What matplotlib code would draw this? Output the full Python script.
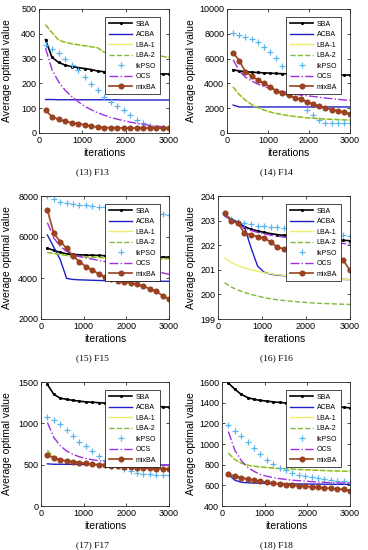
import numpy as np
import matplotlib
matplotlib.use('Agg')
import matplotlib.pyplot as plt

plt.rcParams['font.family'] = ['Liberation Sans', 'DejaVu Sans']

# iterations (markers every 150)
iters = np.arange(150, 3001, 150)

names = ['SBA', 'ACBA', 'LBA-1', 'LBA-2', 'fkPSO', 'OCS', 'mixBA']

# (13) F13
f13_sba = [376, 305, 285, 274, 268, 264, 260, 256, 250, 247, 246, 245, 244, 243, 242, 241, 240, 239, 238, 238]
f13_acba = [135, 135, 134, 134, 134, 134, 134, 134, 134, 134, 134, 134, 133, 133, 133, 133, 133, 133, 133, 133]
f13_lba1 = [436, 405, 375, 366, 360, 356, 352, 348, 344, 326, 320, 320, 320, 319, 318, 316, 314, 312, 309, 305]
f13_lba2 = [436, 405, 375, 366, 360, 356, 352, 348, 344, 326, 320, 320, 320, 319, 318, 316, 314, 312, 309, 305]
f13_pso = [355, 338, 322, 297, 274, 254, 224, 197, 173, 146, 126, 108, 92, 72, 54, 41, 27, 22, 22, 22]
f13_ocs = [342, 255, 207, 173, 148, 127, 108, 94, 82, 72, 63, 56, 50, 44, 39, 35, 31, 28, 25, 23]
f13_mix = [92, 65, 55, 47, 42, 38, 33, 28, 24, 22, 21, 21, 20, 20, 20, 20, 20, 20, 20, 20]

# (14) F14
f14_sba = [5100, 5000, 4950, 4900, 4880, 4850, 4830, 4800, 4780, 4770, 4750, 4740, 4730, 4720, 4710, 4700, 4700, 4690, 4680, 4670]
f14_acba = [2250, 2100, 2100, 2100, 2100, 2100, 2100, 2100, 2100, 2100, 2100, 2100, 2100, 2100, 2100, 2100, 2100, 2100, 2100, 2100]
f14_lba1 = [3700, 3100, 2650, 2300, 2050, 1850, 1700, 1580, 1480, 1400, 1330, 1280, 1230, 1190, 1150, 1120, 1100, 1080, 1060, 1050]
f14_lba2 = [3700, 3100, 2650, 2300, 2050, 1850, 1700, 1580, 1480, 1400, 1330, 1280, 1230, 1190, 1150, 1120, 1100, 1080, 1060, 1050]
f14_pso = [8050, 7920, 7780, 7600, 7300, 6920, 6570, 6030, 5430, 4680, 3700, 2750, 1840, 1430, 1030, 840, 840, 840, 840, 840]
f14_ocs = [5900, 5000, 4500, 4200, 3950, 3750, 3600, 3450, 3350, 3250, 3150, 3050, 3000, 2950, 2880, 2820, 2770, 2720, 2670, 2620]
f14_mix = [6490, 5810, 4950, 4590, 4270, 4000, 3730, 3400, 3190, 3050, 2860, 2730, 2510, 2320, 2160, 2030, 1890, 1780, 1680, 1510]

# (15) F15
f15_sba = [5450, 5350, 5250, 5180, 5150, 5130, 5120, 5110, 5100, 5090, 5080, 5070, 5060, 5050, 5050, 5040, 5030, 5030, 5020, 5020]
f15_acba = [6100, 5500, 4900, 3980, 3930, 3910, 3900, 3890, 3880, 3870, 3870, 3860, 3860, 3850, 3850, 3850, 3850, 3840, 3840, 3840]
f15_lba1 = [5250, 5200, 5150, 5100, 5070, 5050, 5030, 5010, 5000, 4990, 4980, 4970, 4960, 4960, 4950, 4950, 4950, 4940, 4940, 4940]
f15_lba2 = [5250, 5200, 5150, 5100, 5070, 5050, 5030, 5010, 5000, 4990, 4980, 4970, 4960, 4960, 4950, 4950, 4950, 4940, 4940, 4940]
f15_pso = [8000, 7840, 7720, 7670, 7620, 7570, 7540, 7510, 7480, 7440, 7400, 7370, 7340, 7300, 7270, 7240, 7200, 7160, 7110, 7080]
f15_ocs = [6700, 5950, 5550, 5300, 5150, 5050, 4980, 4920, 4860, 4800, 4740, 4680, 4620, 4560, 4500, 4440, 4380, 4320, 4250, 4180]
f15_mix = [7320, 6180, 5780, 5450, 5080, 4800, 4560, 4400, 4200, 4050, 3950, 3870, 3800, 3750, 3700, 3590, 3480, 3350, 3140, 2980]

# (16) F16
f16_sba = [203.25, 203.05, 202.9, 202.75, 202.65, 202.58, 202.52, 202.47, 202.43, 202.40, 202.37, 202.34, 202.32, 202.30, 202.28, 202.26, 202.24, 202.22, 202.20, 202.18]
f16_acba = [203.2, 203.05, 202.95, 202.75, 201.9, 201.15, 200.9, 200.82, 200.78, 200.76, 200.74, 200.72, 200.7, 200.68, 200.66, 200.65, 200.63, 200.62, 200.61, 200.6]
f16_lba1 = [201.47, 201.3, 201.17, 201.08, 201.0, 200.94, 200.88, 200.84, 200.8, 200.77, 200.74, 200.72, 200.7, 200.68, 200.66, 200.65, 200.63, 200.62, 200.61, 200.6]
f16_lba2 = [200.47, 200.3, 200.18, 200.08, 200.0, 199.93, 199.87, 199.82, 199.78, 199.75, 199.72, 199.7, 199.68, 199.66, 199.64, 199.63, 199.62, 199.61, 199.6, 199.59]
f16_pso = [203.25, 203.05, 202.95, 202.9, 202.85, 202.8, 202.78, 202.75, 202.72, 202.7, 202.67, 202.64, 202.6, 202.57, 202.54, 202.5, 202.47, 202.44, 202.4, 202.38]
f16_ocs = [203.2, 203.0, 202.85, 202.7, 202.6, 202.52, 202.46, 202.41, 202.37, 202.33, 202.3, 202.27, 202.24, 202.21, 202.18, 202.15, 202.13, 202.1, 202.07, 202.05]
f16_mix = [203.3, 203.0, 202.9, 202.5, 202.42, 202.35, 202.3, 202.12, 201.92, 201.85, 201.78, 201.74, 201.7, 201.66, 201.62, 201.58, 201.52, 201.45, 201.38, 200.98]

# (17) F17
f17_sba = [1470, 1350, 1305, 1290, 1278, 1268, 1260, 1255, 1250, 1245, 1240, 1235, 1230, 1225, 1220, 1215, 1210, 1205, 1200, 1195]
f17_acba = [510, 505, 505, 504, 504, 503, 503, 502, 502, 501, 500, 500, 499, 499, 498, 498, 497, 496, 496, 495]
f17_lba1 = [670, 590, 560, 545, 535, 525, 515, 505, 495, 490, 485, 480, 475, 470, 465, 462, 458, 455, 452, 450]
f17_lba2 = [670, 590, 560, 545, 535, 525, 515, 505, 495, 490, 485, 480, 475, 470, 465, 462, 458, 455, 452, 450]
f17_pso = [1080, 1040, 990, 920, 850, 780, 730, 660, 610, 560, 520, 480, 450, 420, 395, 385, 382, 381, 380, 380]
f17_ocs = [1010, 830, 730, 665, 625, 595, 575, 560, 548, 538, 530, 523, 517, 512, 508, 504, 500, 497, 494, 490]
f17_mix = [620, 580, 560, 545, 535, 525, 515, 505, 495, 490, 485, 480, 475, 470, 465, 460, 455, 450, 448, 445]

# (18) F18
f18_sba = [1590, 1530, 1480, 1450, 1432, 1422, 1415, 1408, 1402, 1397, 1392, 1388, 1383, 1378, 1374, 1370, 1365, 1360, 1355, 1350]
f18_acba = [705, 650, 630, 625, 622, 620, 618, 617, 616, 615, 614, 613, 613, 612, 612, 611, 611, 610, 610, 610]
f18_lba1 = [910, 850, 815, 795, 785, 778, 772, 767, 763, 760, 757, 754, 751, 748, 745, 743, 741, 739, 737, 735]
f18_lba2 = [910, 850, 815, 795, 785, 778, 772, 767, 763, 760, 757, 754, 751, 748, 745, 743, 741, 739, 737, 735]
f18_pso = [1180, 1130, 1075, 1020, 960, 900, 850, 805, 770, 745, 720, 700, 690, 680, 670, 660, 650, 645, 640, 630]
f18_ocs = [1120, 940, 840, 775, 735, 705, 688, 675, 665, 657, 650, 645, 640, 636, 632, 629, 626, 624, 622, 620]
f18_mix = [705, 690, 675, 660, 650, 640, 630, 620, 615, 605, 600, 595, 590, 585, 580, 575, 570, 565, 560, 550]

# стилі кривих
styles = [
    dict(color='black', ls='-', lw=1.2, marker='.', ms=2.5),
    dict(color='#1f1fc8', ls='-', lw=1.0),
    dict(color='#ecec6e', ls='-', lw=1.0),
    dict(color='#7fb83a', ls='--', lw=1.0),
    dict(color='#5ab4ee', ls='none', marker='+', ms=5, mew=0.9),
    dict(color='#a030e0', ls='-.', lw=1.0),
    dict(color='#a0522d', ls='-', lw=1.3, marker='o', ms=3.8, mfc='#a0401f', mec='#8a3a1a', mew=0.5),
]

panels = [
    ([f13_sba, f13_acba, f13_lba1, f13_lba2, f13_pso, f13_ocs, f13_mix], (0, 500), np.arange(0, 501, 100), '(13) F13'),
    ([f14_sba, f14_acba, f14_lba1, f14_lba2, f14_pso, f14_ocs, f14_mix], (0, 10000), np.arange(0, 10001, 2000), '(14) F14'),
    ([f15_sba, f15_acba, f15_lba1, f15_lba2, f15_pso, f15_ocs, f15_mix], (2000, 8000), np.arange(2000, 8001, 2000), '(15) F15'),
    ([f16_sba, f16_acba, f16_lba1, f16_lba2, f16_pso, f16_ocs, f16_mix], (199, 204), np.arange(199, 205, 1), '(16) F16'),
    ([f17_sba, f17_acba, f17_lba1, f17_lba2, f17_pso, f17_ocs, f17_mix], (0, 1500), np.arange(0, 1501, 500), '(17) F17'),
    ([f18_sba, f18_acba, f18_lba1, f18_lba2, f18_pso, f18_ocs, f18_mix], (400, 1600), np.arange(400, 1601, 200), '(18) F18'),
]

# положення осей у пікселях: left, top, right, bottom
boxes = [(39, 9, 169, 133), (227, 9, 350, 133),
         (41, 196, 169, 319), (218, 196, 350, 319),
         (41, 382, 169, 506), (222, 382, 350, 506)]
W, H = 368, 550

fig = plt.figure(figsize=(W / 100, H / 100), dpi=100)

for k, (series, ylim, yt, caption) in enumerate(panels):
    l, t, r, b = boxes[k]
    ax = fig.add_axes([l / W, 1 - b / H, (r - l) / W, (b - t) / H])
    for name, ys, st in zip(names, series, styles):
        ax.plot(iters, ys, label=name, **st)
    ax.set_xlim(0, 3000)
    ax.set_ylim(*ylim)
    ax.set_xticks([0, 1000, 2000, 3000])
    ax.set_yticks(yt)
    ax.tick_params(direction='in', length=2.5, width=0.5, labelsize=6.5,
                   top=True, right=True, pad=2)
    for sp in ax.spines.values():
        sp.set_linewidth(0.6)
        sp.set_color('#262626')
    ax.set_xlabel('iterations', fontsize=7.5, labelpad=2)
    ax.set_ylabel('Average optimal value', fontsize=7.5)
    col_left = 0 if k % 2 == 0 else 184
    ax.yaxis.set_label_coords((col_left + 12 - l) / (r - l), 0.5)
    leg = ax.legend(loc='upper right', bbox_to_anchor=(1 - 9 / (r - l), 1 - 8 / (b - t)),
                    borderaxespad=0, fontsize=5, frameon=True, fancybox=False,
                    framealpha=1, handlelength=3.3, handletextpad=0.5, labelspacing=0.5,
                    borderpad=0.55, numpoints=1)
    leg.get_frame().set_edgecolor('black')
    leg.get_frame().set_linewidth(0.5)
    cx = 92 if k % 2 == 0 else 276
    fig.text(cx / W, 1 - (b + 39) / H, caption, ha='center', va='center',
             fontsize=6.8, family=['Liberation Serif', 'DejaVu Serif'])

fig.savefig('out.png', dpi=100)
